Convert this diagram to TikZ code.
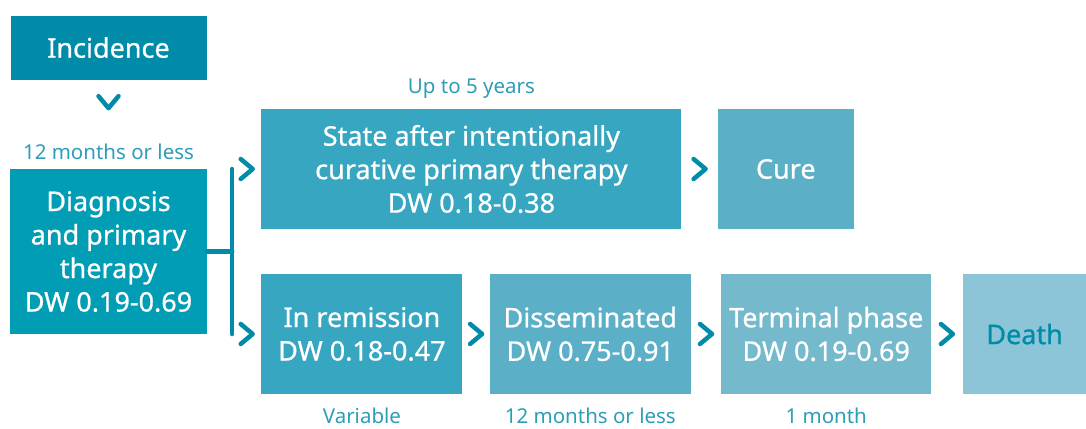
\documentclass[tikz,border=0pt]{standalone}
\usepackage{fontspec}
\setmainfont{Noto Sans}
\newfontfamily\boxfont[FakeBold=0.8]{Noto Sans}
\usepackage{xcolor}
\usepackage{tikz}
\usetikzlibrary{positioning,decorations.markings}

\definecolor{incblue}{HTML}{008BA8}
\definecolor{diagblue}{HTML}{009DB5}
\definecolor{stateblue}{HTML}{36A6C1}
\definecolor{cureblue}{HTML}{5BB0C7}
\definecolor{termblue}{HTML}{75B9CD}
\definecolor{deathblue}{HTML}{8BC5D7}
\definecolor{lblblue}{HTML}{2E9DB8}

\tikzset{
  sbox/.style={rectangle,fill=#1,text=white,minimum height=120pt,
               align=center,inner sep=0pt,font=\boxfont\fontsize{27}{33.5}\selectfont},
  lbl/.style={text=lblblue,inner sep=0pt,font=\fontsize{20.5}{24}\selectfont},
  bar/.style={line width=4.5pt,color=incblue,line cap=round},
  chev/.style={decoration={markings,mark=at position #1 with
               {\draw[incblue,line width=4.5pt,line cap=round,line join=round]
                 (-6pt,-10pt) -- (6pt,0pt) -- (-6pt,10pt);}},
               postaction={decorate}},
  chev/.default=0.5,
}

\begin{document}
\begin{tikzpicture}
  \useasboundingbox (0,0) rectangle (1086pt,-428pt);

  % --- start of the pathway ---
  \node[sbox=diagblue, minimum width=197pt, minimum height=165pt] (diag)
    at (108.5pt,-251.5pt) {Diagnosis\\and primary\\therapy\\DW 0.19-0.69};
  \node[sbox=incblue, minimum width=196pt, minimum height=64pt,
        above=89pt of diag] (inc) {Incidence};
  \node[lbl, above=9pt of diag] (tdiag) {12 months or less};

  \path[chev=0.35] (inc) -- (tdiag);

  % --- curative branch ---
  \node[sbox=stateblue, minimum width=420pt, right=54pt of diag, yshift=82.5pt] (state)
    {State after intentionally\\curative primary therapy\\DW 0.18-0.38};
  \node[sbox=cureblue, minimum width=136pt, right=36pt of state] (cure) {Cure};
  \node[lbl, above=10pt of state] (tstate) {Up to 5 years};

  \path[chev] (state) -- (cure);

  % --- progressive branch ---
  \node[sbox=stateblue, minimum width=201pt, right=54pt of diag, yshift=-82.5pt] (rem)
    {In remission\\DW 0.18-0.47};
  \node[sbox=cureblue, minimum width=201pt, right=27pt of rem] (dis)
    {Disseminated\\DW 0.75-0.91};
  \node[sbox=termblue, minimum width=210pt, right=30pt of dis] (term)
    {Terminal phase\\DW 0.19-0.69};
  \node[sbox=deathblue, minimum width=124pt, right=31pt of term,
        text=incblue] (death) {Death};

  \node[lbl, below=13.5pt of rem] (trem) {Variable};
  \node[lbl, below=13.5pt of dis] (tdis) {12 months or less};
  \node[lbl, below=13.5pt of term] (tterm) {1 month};

  \path[chev] (rem) -- (dis);
  \path[chev] (dis) -- (term);
  \path[chev] (term) -- (death);

  % --- fork after diagnosis ---
  \draw[bar] (diag.east) -- ++(25pt,0) coordinate (fork);
  \draw[bar] (fork |- state) -- (fork |- rem);
  \path[chev] (fork |- state) -- (state.west);
  \path[chev] (fork |- rem) -- (rem.west);
\end{tikzpicture}
\end{document}
